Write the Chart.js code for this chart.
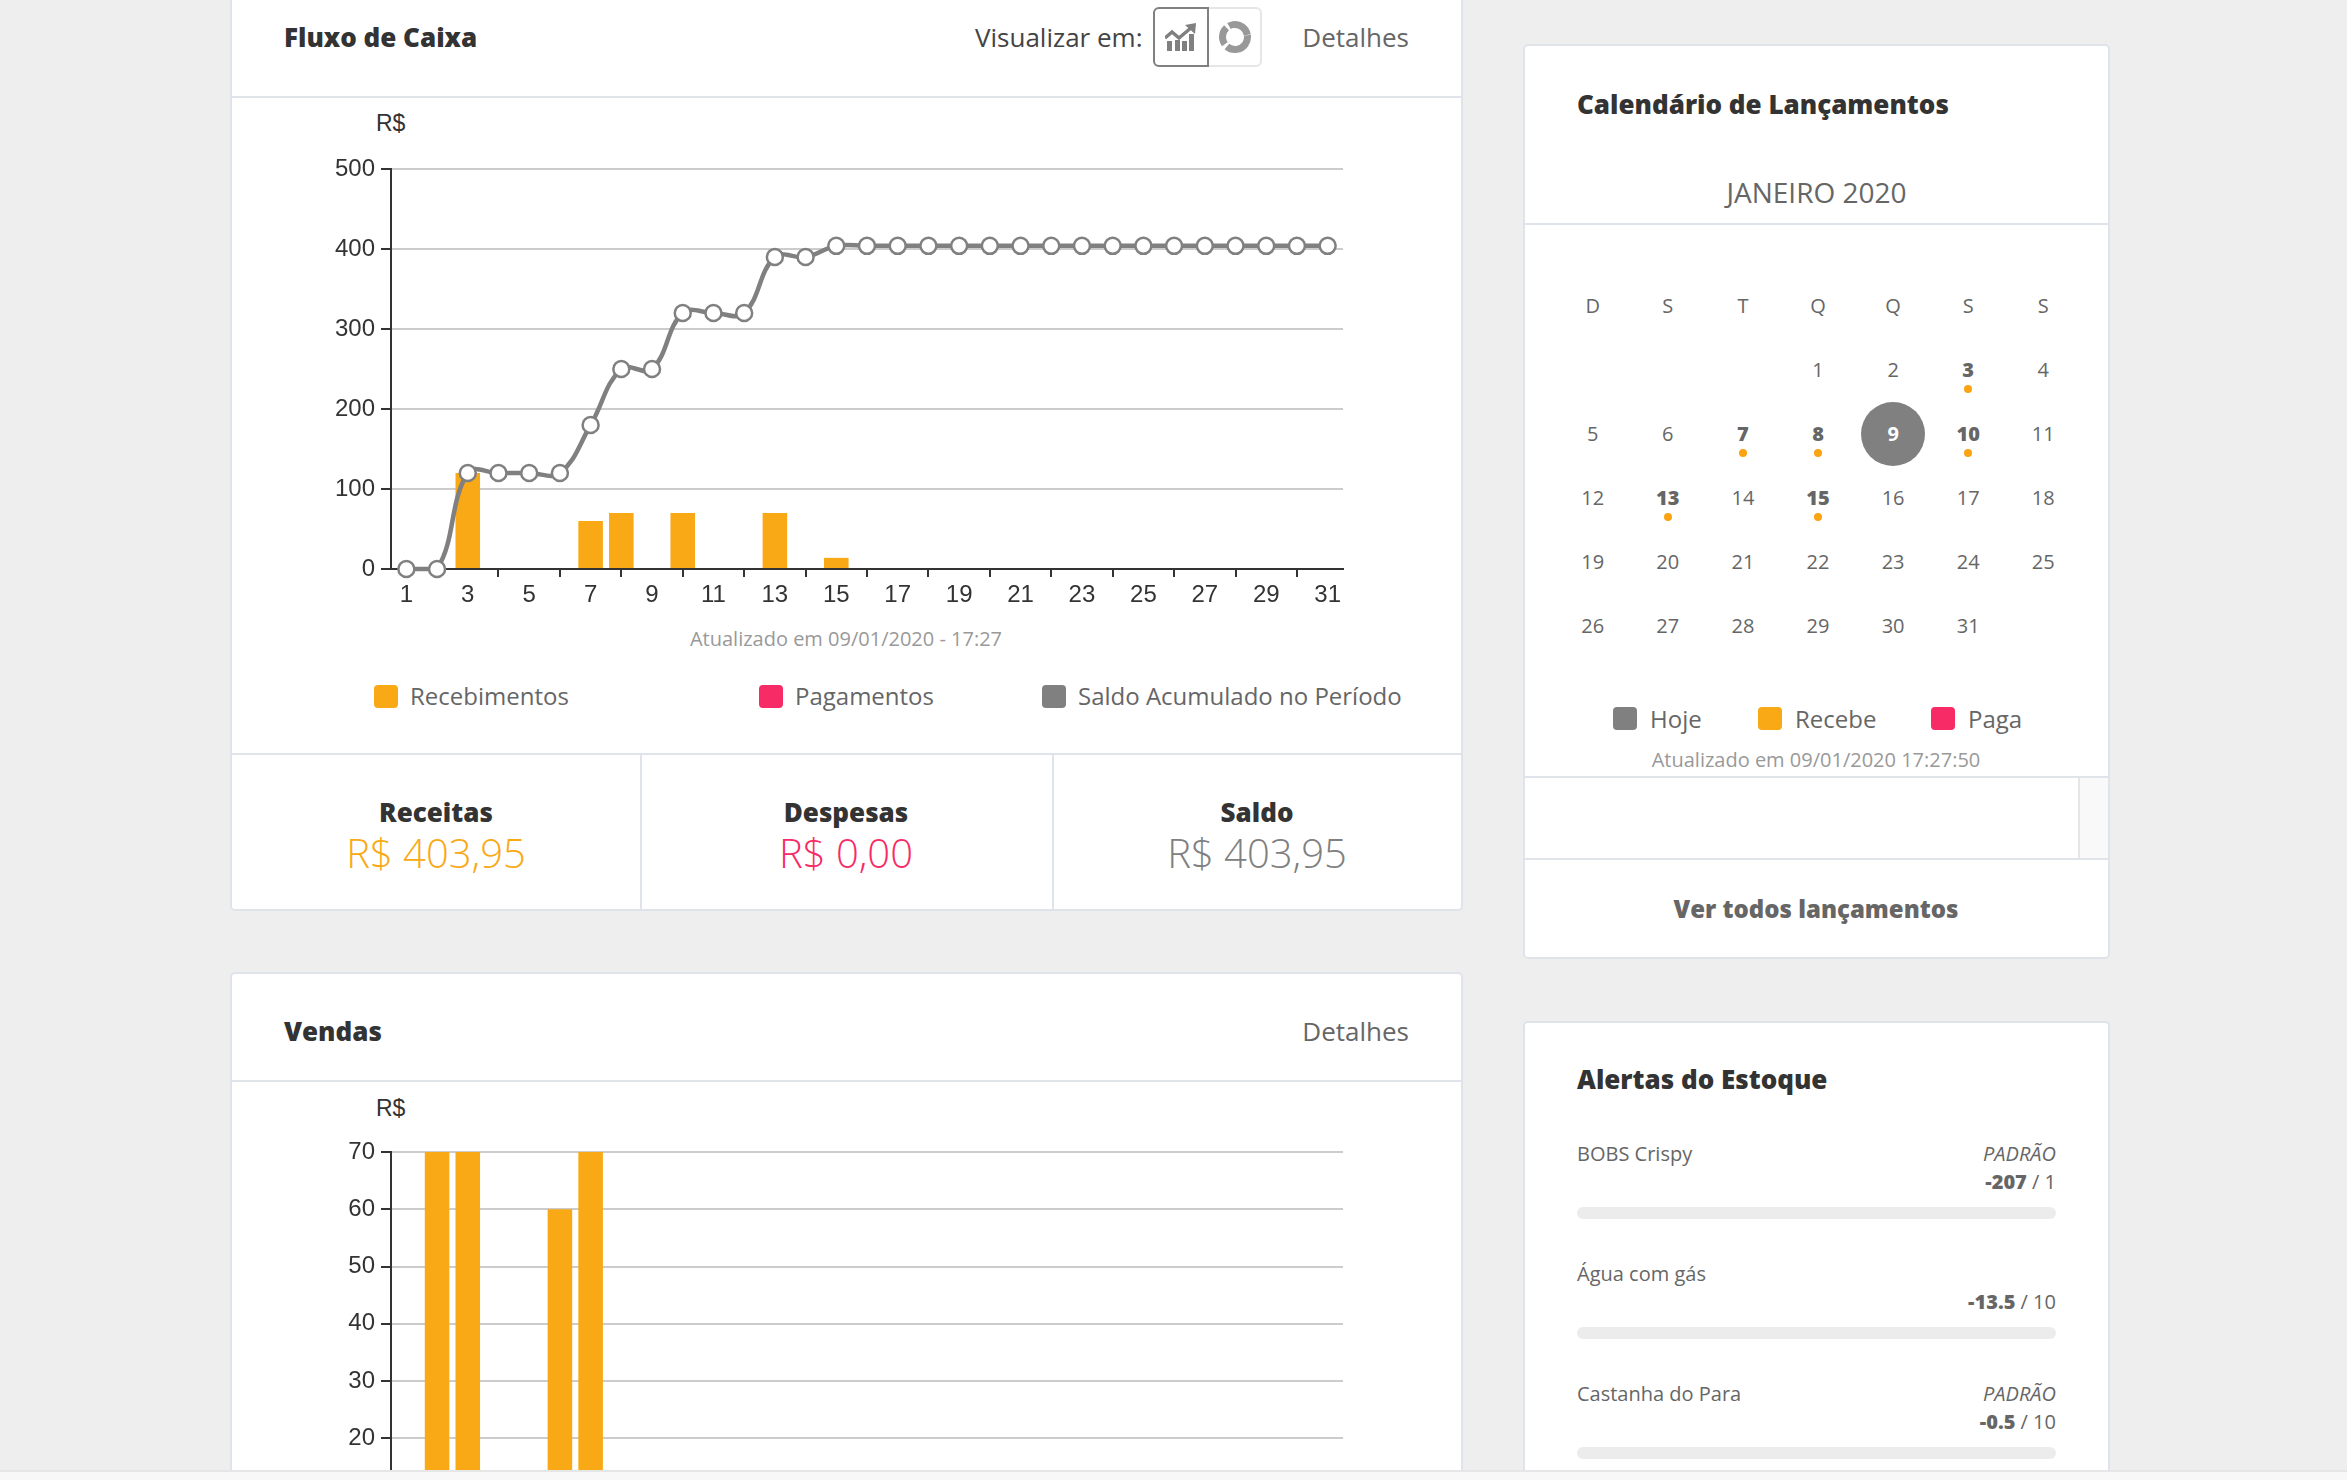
<!DOCTYPE html>
<html lang="pt-BR">
<head>
<meta charset="utf-8">
<title>Painel</title>
<script src="https://cdn.jsdelivr.net/npm/chart.js@4"></script>
<style>
html,body{margin:0;padding:0;width:2347px;height:1480px;overflow:hidden;background:#eee;font-family:"Open Sans",sans-serif;color:#666}
#page{position:absolute;left:0;top:0;width:2347px;height:1480px;overflow:hidden}
.card{position:absolute;background:#fff;border:2px solid #dfe4ea;border-radius:5px;box-sizing:border-box}
.ln{position:absolute;background:#dfe4ea}
.t{position:absolute;white-space:nowrap;transform:translateY(-50%);line-height:1.2}
.c{transform:translate(-50%,-50%)}
.r{transform:translate(-100%,-50%)}
.sq{position:absolute;width:24px;height:23px;border-radius:4px}
canvas{position:absolute}
#strip{position:absolute;left:0;top:1470px;width:2347px;height:10px;background:#f8f8f8;border-top:2px solid #e6e6e6;box-sizing:border-box;z-index:5}
</style>
</head>
<body>
<div id="page">
  <canvas id="fluxo"></canvas>
  <canvas id="vendas"></canvas>
</div>
<script>
// ---- chart data ----
const dias = ["1","2","3","4","5","6","7","8","9","10","11","12","13","14","15","16","17","18","19","20","21","22","23","24","25","26","27","28","29","30","31"];
const recebimentos = [0,0,120,0,0,0,60,70,0,70,0,0,70,0,13.95,0,0,0,0,0,0,0,0,0,0,0,0,0,0,0,0];
const pagamentos = [0,0,0,0,0,0,0,0,0,0,0,0,0,0,0,0,0,0,0,0,0,0,0,0,0,0,0,0,0,0,0];
const saldo = [0,0,120,120,120,120,180,250,250,320,320,320,390,390,403.95,403.95,403.95,403.95,403.95,403.95,403.95,403.95,403.95,403.95,403.95,403.95,403.95,403.95,403.95,403.95,403.95];
const vendas = [0,70,70,0,0,60,70,0,0,0,0,0,0,0,0,0,0,0,0,0,0,0,0,0,0,0,0,0,0,0,0];
// ---- calendar / list data ----
const semana = ["D","S","T","Q","Q","S","S"];
const primeiraColuna = 3;
const diasNoMes = 31;
const diasComRecebimento = [3,7,8,10,13,15];
const hoje = 9;
const alertas = [
  ["BOBS Crispy","PADRÃO","-207","1"],
  ["Água com gás","","-13.5","10"],
  ["Castanha do Para","PADRÃO","-0.5","10"]
];
const ORANGE="#f9a916", PINK="#f72b66", GRAY="#808080", DARK="#333333";
const page=document.getElementById('page');
function el(cls,css,txt,isHTML){const d=document.createElement('div');d.className=cls;Object.assign(d.style,css||{});if(txt!=null){if(isHTML)d.innerHTML=txt;else d.textContent=txt;}page.appendChild(d);return d;}
function box(cls,x,y,w,h,extra){return el(cls,Object.assign({left:x+'px',top:y+'px',width:w+'px',height:h+'px'},extra||{}));}
function text(s,x,y,size,o){o=o||{};return el('t '+(o.a||''),{left:x+'px',top:y+'px',fontSize:size+'px',fontWeight:o.w||400,color:o.color||'#666',fontStyle:o.i?'italic':'normal',fontFamily:o.f||'"Open Sans",sans-serif'},s,o.html);}

// cards behind canvases
const cards=[[230,-10,1233,921],[230,972,1233,560],[1523,44,587,915],[1523,1021,587,520]];
cards.forEach(c=>{const d=box('card',c[0],c[1],c[2],c[3]);page.insertBefore(d,page.firstChild);});
// left card 1
box('ln',232,96,1229,2);
box('ln',232,753,1229,2);
box('ln',640,755,2,154);
box('ln',1052,755,2,154);
text('Fluxo de Caixa',284,38,26,{w:800,color:DARK});
text('Visualizar em:',975,38,26,{color:'#444'});
text('Detalhes',1409,38,26,{a:'r'});
box('x',1153,7,109,60,{position:'absolute',boxSizing:'border-box',border:'2px solid #e6e6e6',borderRadius:'6px',background:'#fff'});
box('x',1153,7,56,60,{position:'absolute',boxSizing:'border-box',border:'2px solid #808080',borderRadius:'6px 0 0 6px',background:'#fff'});
el('',{position:'absolute',left:'1165px',top:'23px',width:'32px',height:'28px'},'<svg width="32" height="28" viewBox="0 0 32 28"><g fill="#808080"><rect x="2" y="18" width="5" height="10"/><rect x="10" y="17" width="5" height="11"/><rect x="17" y="18" width="5" height="10"/><rect x="24" y="11" width="5" height="17"/></g><path d="M0 15 L7 9 L14 15 L27 4" fill="none" stroke="#808080" stroke-width="3.5"/><path d="M20 2 L31 0 L30 11 Z" fill="#808080"/></svg>',true);
el('',{position:'absolute',left:'1218px',top:'20px',width:'34px',height:'34px'},'<svg width="34" height="34" viewBox="0 0 34 34"><g transform="rotate(-8 17 17)"><circle cx="17" cy="17" r="12.5" fill="none" stroke="#999" stroke-width="7" stroke-dasharray="30 3 18 3 23.5 1"/></g></svg>',true);
text('Atualizado em 09/01/2020 - 17:27',846,638.5,20,{a:'c',color:'#999'});
[[374,ORANGE,'Recebimentos',410],[759,PINK,'Pagamentos',795],[1042,GRAY,'Saldo Acumulado no Período',1078]].forEach(l=>{
  box('sq',l[0],685,24,23,{background:l[1]});
  text(l[2],l[3],696,24,{});
});
text('R$',376,124,23,{f:'"Liberation Sans",sans-serif',color:DARK});
[[436,'Receitas','R$ 403,95',ORANGE],[846,'Despesas','R$ 0,00',PINK],[1257,'Saldo','R$ 403,95',GRAY]].forEach(s=>{
  text(s[1],s[0],813,26,{a:'c',w:800,color:DARK});
  text(s[2],s[0],853,40,{a:'c',w:300,color:s[3]});
});
// left card 2
box('ln',232,1080,1229,2);
text('Vendas',284,1032,26,{w:800,color:DARK});
text('Detalhes',1409,1032,26,{a:'r'});
text('R$',376,1108.5,23,{f:'"Liberation Sans",sans-serif',color:DARK});
// calendar
text('Calendário de Lançamentos',1577,105,26,{w:800,color:DARK});
text('JANEIRO 2020',1816.5,192.5,28,{a:'c'});
box('ln',1525,223,583,2);
const colX=i=>1592.7+i*75.1, rowY=r=>370+r*64;
semana.forEach((s,i)=>text(s,colX(i),306,20,{a:'c'}));
for(let d=1;d<=diasNoMes;d++){
  const idx=d-1+primeiraColuna, r=Math.floor(idx/7), c=idx%7, x=colX(c), y=rowY(r);
  const rec=diasComRecebimento.includes(d);
  if(d===hoje) box('x',x-32,y-32,64,64,{position:'absolute',background:GRAY,borderRadius:'50%'});
  text(String(d),x,y,20,{a:'c',w:rec?800:(d===hoje?700:400),color:d===hoje?'#fff':'#666'});
  if(rec) box('x',x-4,y+15,8,8,{position:'absolute',background:'#fca311',borderRadius:'50%'});
}
[[1613,GRAY,'Hoje',1650],[1758,ORANGE,'Recebe',1795],[1931,PINK,'Paga',1968]].forEach(l=>{
  box('sq',l[0],707,24,23,{background:l[1]});
  text(l[2],l[3],719,24,{});
});
text('Atualizado em 09/01/2020 17:27:50',1816,759.5,20,{a:'c',color:'#999'});
box('ln',1525,776,583,2);
box('ln',1525,858,583,2);
box('x',2078,778,30,80,{position:'absolute',background:'#f9f9f9',borderLeft:'2px solid #e6e6e6',boxSizing:'border-box'});
text('Ver todos lançamentos',1816,909,24,{a:'c',w:800});
// alerts
text('Alertas do Estoque',1577,1080,26,{w:800,color:DARK});
alertas.forEach((a,i)=>{
  const y=1153.5+i*120;
  text(a[0],1577,y,20,{});
  if(a[1]) text(a[1],2056,y,20,{a:'r',i:true});
  text('<b style="font-weight:800">'+a[2]+'</b> / '+a[3],2056,y+28,20,{a:'r',html:true});
  box('x',1577,y+53.5,479,12,{position:'absolute',background:'#ececec',borderRadius:'6px'});
});
el('',{},null).id='strip';

// ---- charts ----
Chart.defaults.font.family='"Liberation Sans",Arial,sans-serif';
Chart.defaults.font.size=24;
Chart.defaults.color=DARK;
Chart.defaults.animation=false;
function xAxis(){return {
  offset:true,
  grid:{drawOnChartArea:false,offset:false,tickLength:8,lineWidth:2,color:DARK,tickColor:c=>c.index%2===1?DARK:'rgba(0,0,0,0)'},
  border:{color:DARK,width:2},
  afterFit:s=>{s.height=50;},
  ticks:{autoSkip:false,maxRotation:0,minRotation:0,padding:4,color:DARK,callback:function(v,i){return i%2===0?this.getLabelForValue(v):'';}}
};}
function yAxis(max,step){return {
  min:0,max:max,
  grid:{color:'#cccccc',lineWidth:2,tickColor:DARK,tickLength:10},
  border:{color:DARK,width:2},
  afterFit:s=>{s.width=159;},
  ticks:{stepSize:step,padding:6,color:DARK}
};}
function place(id,left,top){const c=document.getElementById(id);c.style.left=left+'px';c.style.top=top+'px';c.style.zIndex=1;return c;}
const opts=(yA,top)=>({responsive:false,animation:false,devicePixelRatio:1,
  layout:{padding:{left:0,right:119,top:top,bottom:0}},
  plugins:{legend:{display:false},tooltip:{enabled:false}},
  scales:{x:xAxis(),y:yA}});
const c1=place('fluxo',232,100);c1.width=1230;c1.height=519;
new Chart(c1,{type:'bar',data:{labels:dias,datasets:[
  {type:'line',label:'Saldo Acumulado no Período',data:saldo,order:0,borderColor:GRAY,borderWidth:4.5,tension:0.4,clip:false,
   pointRadius:8,pointBorderWidth:2.5,pointBackgroundColor:'#fff',pointBorderColor:GRAY},
  {label:'Recebimentos',data:recebimentos,order:1,backgroundColor:ORANGE,barPercentage:0.8,categoryPercentage:1},
  {label:'Pagamentos',data:pagamentos,order:2,backgroundColor:PINK,barPercentage:0.8,categoryPercentage:1,hidden:true}
]},options:opts(yAxis(500,100),69)});
const c2=place('vendas',232,1090);c2.width=1230;c2.height=513;
new Chart(c2,{type:'bar',data:{labels:dias,datasets:[
  {label:'Vendas',data:vendas,backgroundColor:ORANGE,barPercentage:0.8,categoryPercentage:1}
]},options:opts(yAxis(70,10),62)});
</script>
</body>
</html>
